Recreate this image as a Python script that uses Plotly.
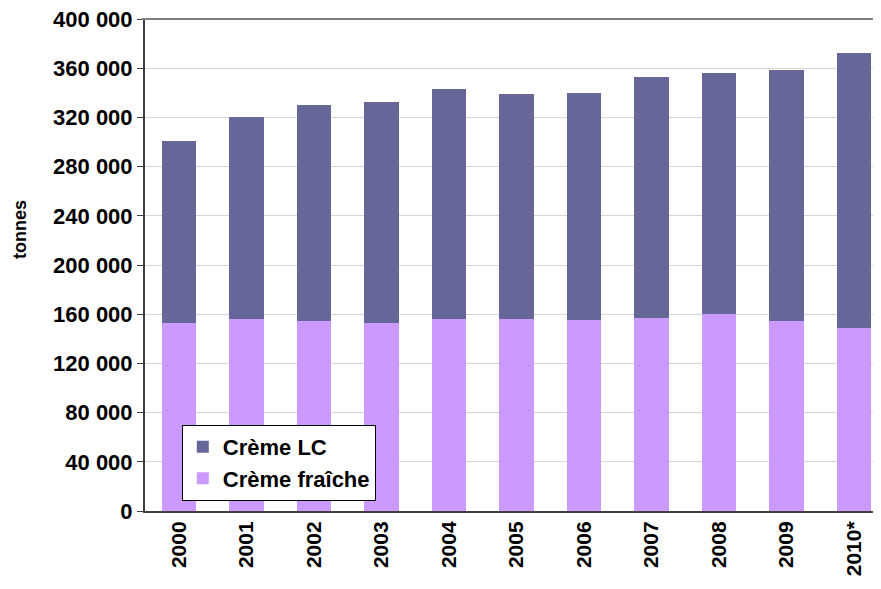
import plotly.graph_objects as go

years = ["2000", "2001", "2002", "2003", "2004", "2005", "2006", "2007", "2008", "2009", "2010*"]
creme_fraiche = [153000, 156000, 154500, 153000, 156000, 156000, 155500, 157000, 160000, 154500, 149000]
creme_lc = [148000, 164500, 175500, 179500, 187000, 183000, 184500, 196000, 196000, 204000, 223500]
y_ticks = list(range(0, 400001, 40000))

FONT = "Arial, Liberation Sans, sans-serif"

fig = go.Figure()
fig.add_trace(go.Bar(x=years, y=creme_fraiche, name="<b>Crème fraîche</b>",
                     marker=dict(color="#CC99FF", line=dict(width=0)), width=0.51))
fig.add_trace(go.Bar(x=years, y=creme_lc, name="<b>Crème LC</b>",
                     marker=dict(color="#666699", line=dict(width=0)), width=0.51))

fig.update_layout(
    barmode="stack",
    width=873, height=581,
    margin=dict(l=137, r=0, t=11, b=78),
    paper_bgcolor="white", plot_bgcolor="white",
    separators=", ",
    font=dict(family=FONT, color="black"),
    showlegend=True,
    legend=dict(
        x=0.05, y=0.175, xanchor="left", yanchor="top",
        traceorder="reversed",
        bgcolor="white", bordercolor="black", borderwidth=1,
        font=dict(family=FONT, size=22, color="black"),
        itemsizing="constant",
    ),
    xaxis=dict(
        type="category",
        range=[-0.5, 10.4],
        tickangle=-90,
        tickfont=dict(family=FONT, size=21, color="black"),
        showline=True, linecolor="#404040", linewidth=2,
        ticks="", showgrid=False,
    ),
    yaxis=dict(
        range=[0, 400000],
        tickvals=y_ticks,
        tickformat=",d",
        ticklabeloverflow="allow",
        tickfont=dict(family=FONT, size=22, color="black"),
        showline=True, linecolor="#404040", linewidth=2,
        ticks="outside", ticklen=6, tickcolor="#404040",
        showgrid=True, gridcolor="#d4d4d4", gridwidth=1,
        zeroline=False,
    ),
)
# bold tick labels
fig.update_xaxes(ticktext=["<b>%s</b>" % y for y in years], tickvals=years)
fig.update_yaxes(ticktext=["<b>%s</b>" % ("{:,}".format(v).replace(",", " ")) for v in y_ticks])
# y axis title
fig.add_annotation(text="<b>tonnes</b>", xref="paper", yref="paper", x=-0.17, y=0.573,
                   xanchor="center", yanchor="middle", textangle=-90, showarrow=False,
                   font=dict(family=FONT, size=18, color="black"))
# top border line of the plot area
fig.add_shape(type="line", xref="paper", yref="paper", x0=-0.005, x1=1, y0=1, y1=1,
              line=dict(color="#808080", width=2))

fig.write_html("out.html")
